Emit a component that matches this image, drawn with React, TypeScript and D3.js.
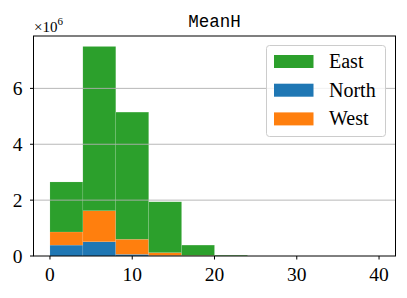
import React from 'react'
import * as d3 from 'd3'

// histogram bins (width 4) and stacked counts per region
const binEdges = [0, 4, 8, 12, 16, 20, 24, 28, 32, 36, 40]
const north = [390000, 510000, 60000, 15000, 4000, 0, 0, 0, 0, 0]
const west = [470000, 1110000, 540000, 105000, 16000, 3000, 0, 0, 0, 0]
const east = [1790000, 5880000, 4550000, 1820000, 370000, 25000, 0, 0, 0, 0]
const xTicks = [0, 10, 20, 30, 40]
const yTicks = [0, 2e6, 4e6, 6e6]

const stackOrder = [
    { name: 'North', values: north, color: '#1f77b4' },
    { name: 'West', values: west, color: '#ff7f0e' },
    { name: 'East', values: east, color: '#2ca02c' },
]
const legendItems = ['East', 'North', 'West']
const colorOf = { East: '#2ca02c', North: '#1f77b4', West: '#ff7f0e' }

const W = 407
const H = 298
const m = { left: 33.5, right: 11.5, top: 36, bottom: 42 }
const serif = '"Liberation Serif", "DejaVu Serif", serif'

export default function App() {
    const x = d3.scaleLinear().domain([-2, 42]).range([m.left, W - m.right])
    const totals = binEdges.slice(0, -1).map((_, i) => north[i] + west[i] + east[i])
    const yMax = d3.max(totals) * 1.05
    const y = d3.scaleLinear().domain([0, yMax]).range([H - m.bottom, m.top])

    const rows = binEdges.slice(0, -1).map((e, i) => {
        const r = { bin: i }
        stackOrder.forEach(s => (r[s.name] = s.values[i]))
        return r
    })
    const stacked = d3.stack().keys(stackOrder.map(s => s.name))(rows)

    const legX = 266.5
    const legY = 45.5

    return (
        <svg width={W} height={H} style={{ position: 'absolute', left: 0, top: 0, background: '#fff' }}>
            {stacked.map((layer, li) => (
                <g key={layer.key} fill={stackOrder[li].color}>
                    {layer.map((d, i) =>
                        d[1] - d[0] > 0 ? (
                            <rect
                                key={i}
                                x={x(binEdges[i])}
                                width={x(binEdges[i + 1]) - x(binEdges[i])}
                                y={y(d[1])}
                                height={y(d[0]) - y(d[1])}
                                stroke="#fff"
                                strokeOpacity={0.2}
                                strokeWidth={0.5}
                            />
                        ) : null
                    )}
                </g>
            ))}
            {yTicks.filter(t => t > 0).map(t => (
                <line key={t} x1={m.left} x2={W - m.right} y1={y(t)} y2={y(t)} stroke="#b0b0b0" strokeWidth={0.9} />
            ))}
            {/* axes spines */}
            <rect x={m.left} y={m.top} width={W - m.left - m.right} height={H - m.top - m.bottom} fill="none" stroke="#000" strokeWidth={1} />
            {yTicks.map(t => (
                <g key={t}>
                    <line x1={m.left - 3.5} x2={m.left} y1={y(t)} y2={y(t)} stroke="#000" />
                    <text x={m.left - 11} y={y(t)} dy="0.34em" textAnchor="end" fontFamily={serif} fontSize={19.5}>
                        {t / 1e6}
                    </text>
                </g>
            ))}
            {xTicks.map(t => (
                <g key={t}>
                    <line x1={x(t)} x2={x(t)} y1={H - m.bottom} y2={H - m.bottom + 3.5} stroke="#000" />
                    <text x={x(t)} y={H - m.bottom + 25} textAnchor="middle" fontFamily={serif} fontSize={19.5}>
                        {t}
                    </text>
                </g>
            ))}
            <text x={34} y={31.5} fontFamily={serif} fontSize={15}>
                ×10<tspan dy={-7} fontSize={11}>6</tspan>
            </text>
            <text x={(m.left + W - m.right) / 2} y={27} textAnchor="middle" fontFamily='"Liberation Mono", "DejaVu Sans Mono", monospace' fontSize={17.5}>
                MeanH
            </text>
            <rect x={legX} y={legY} width={119} height={91} rx={3} fill="#fff" fillOpacity={0.8} stroke="#cccccc" strokeWidth={1} />
            {legendItems.map((name, i) => (
                <g key={name}>
                    <rect x={274} y={55 + i * 28.7} width={39.5} height={13} fill={colorOf[name]} />
                    <text x={329} y={68 + i * 28.7} fontFamily={serif} fontSize={20}>
                        {name}
                    </text>
                </g>
            ))}
        </svg>
    )
}
